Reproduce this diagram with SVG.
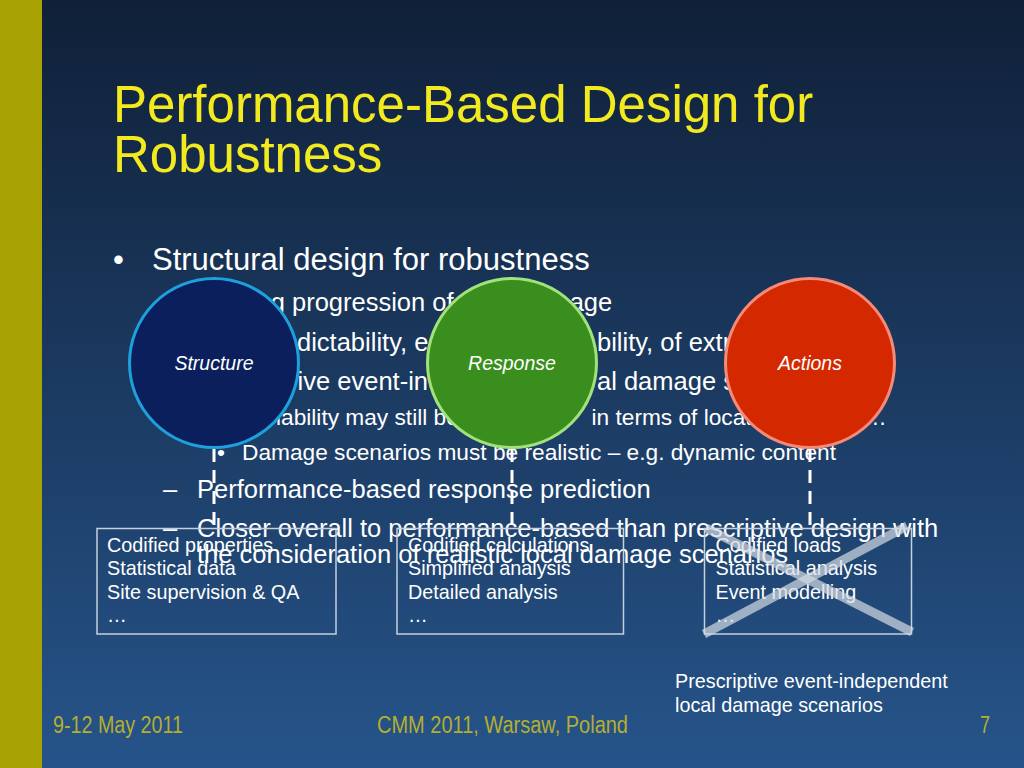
<svg xmlns="http://www.w3.org/2000/svg" width="1024" height="768" viewBox="0 0 1024 768">
<defs>
<linearGradient id="bg" x1="0" y1="0" x2="0" y2="1">
<stop offset="0" stop-color="#102038"/>
<stop offset="1" stop-color="#26548a"/>
</linearGradient>
<style>
text{font-family:"Liberation Sans",Arial,sans-serif;}
.title{fill:#F2EA1E;font-size:51px;}
.l1{fill:#ffffff;font-size:31px;}
.l2{fill:#ffffff;font-size:25.5px;}
.l3{fill:#ffffff;font-size:22.7px;}
.box{fill:none;stroke:#c4d0dc;stroke-width:1.5;}
.bt{fill:#ffffff;font-size:19.8px;}
.cl{fill:#ffffff;font-size:19.5px;font-style:italic;text-anchor:middle;}
.foot{fill:#B4AE30;font-size:23px;}
.dash{stroke:#ffffff;stroke-width:3;stroke-dasharray:13 8;fill:none;}
.xl{stroke:#d4dbe4;stroke-opacity:0.7;stroke-width:9;}
</style>
</defs>
<rect x="0" y="0" width="1024" height="768" fill="url(#bg)"/>
<rect x="0" y="0" width="42" height="768" fill="#A9A204"/>

<g id="title">
<text class="title" x="113" y="122">Performance-Based Design for</text>
<text class="title" x="113" y="172">Robustness</text>
</g>

<g id="bullets">
<text class="l1" x="113" y="270">•</text>
<text class="l1" x="152" y="270">Structural design for robustness</text>
<text class="l2" x="270.7" y="311">g progression of</text>
<text class="l2" x="569.7" y="311">age</text>
<text class="l2" x="297" y="351">dictability, e</text>
<text class="l2" x="597" y="351">bility, of extr</text>
<text class="l2" x="297.6" y="390">ive event-in</text>
<text class="l2" x="597" y="390">al damage s</text>
<text class="l3" x="276" y="425">iability may still be</text>
<text class="l3" x="591.5" y="425">in terms of locati</text>
<text class="l3" x="864" y="425">…</text>
<text class="l3" x="217" y="460">•</text>
<text class="l3" x="242" y="460">Damage scenarios must be realistic – e.g. dynamic content</text>
<text class="l2" x="163" y="498">–</text>
<text class="l2" x="197" y="498">Performance-based response prediction</text>
<text class="l2" x="163" y="537">–</text>
<text class="l2" x="197" y="537">Closer overall to performance-based than prescriptive design with</text>
<text class="l2" x="197" y="563">the consideration of realistic local damage scenarios</text>
</g>

<g id="connectors">
<line class="dash" x1="214" y1="449" x2="214" y2="528"/>
<line class="dash" x1="512" y1="449" x2="512" y2="528"/>
<line class="dash" x1="810" y1="449" x2="810" y2="528"/>
</g>

<g id="structure">
<circle cx="214" cy="363" r="84.5" fill="#0a1f5c" stroke="#1ea0dc" stroke-width="3"/>
<text class="cl" x="214" y="370">Structure</text>
</g>
<g id="response">
<circle cx="512" cy="363" r="84.5" fill="#3a8e1e" stroke="#a2e27c" stroke-width="3"/>
<text class="cl" x="512" y="370">Response</text>
</g>
<g id="actions">
<circle cx="810" cy="363" r="84.5" fill="#d42800" stroke="#f48a78" stroke-width="3"/>
<text class="cl" x="810" y="370">Actions</text>
</g>

<g id="box-structure">
<rect class="box" x="97" y="528.5" width="239" height="105.5"/>
<text class="bt" x="107" y="552">Codified properties</text>
<text class="bt" x="107" y="575">Statistical data</text>
<text class="bt" x="107" y="599">Site supervision &amp; QA</text>
<text class="bt" x="107" y="622">…</text>
</g>
<g id="box-response">
<rect class="box" x="397" y="528.5" width="226.5" height="105.5"/>
<text class="bt" x="408" y="552">Codified calculations</text>
<text class="bt" x="408" y="575">Simplified analysis</text>
<text class="bt" x="408" y="599">Detailed analysis</text>
<text class="bt" x="408" y="622">…</text>
</g>
<g id="box-actions">
<rect class="box" x="704.5" y="528.5" width="207" height="105.5"/>
<text class="bt" x="715.5" y="552">Codified loads</text>
<text class="bt" x="715.5" y="575">Statistical analysis</text>
<text class="bt" x="715.5" y="599">Event modelling</text>
<text class="bt" x="715.5" y="622">…</text>
<line class="xl" x1="706" y1="528" x2="912" y2="632"/>
<line class="xl" x1="907" y1="526" x2="704" y2="634"/>
</g>

<g id="caption">
<text class="bt" x="675" y="688">Prescriptive event-independent</text>
<text class="bt" x="675" y="712">local damage scenarios</text>
</g>

<g id="footer">
<text class="foot" x="53" y="733" textLength="130" lengthAdjust="spacingAndGlyphs">9-12 May 2011</text>
<text class="foot" x="377" y="733" textLength="251" lengthAdjust="spacingAndGlyphs">CMM 2011, Warsaw, Poland</text>
<text class="foot" x="980" y="733" textLength="10" lengthAdjust="spacingAndGlyphs">7</text>
</g>
</svg>
